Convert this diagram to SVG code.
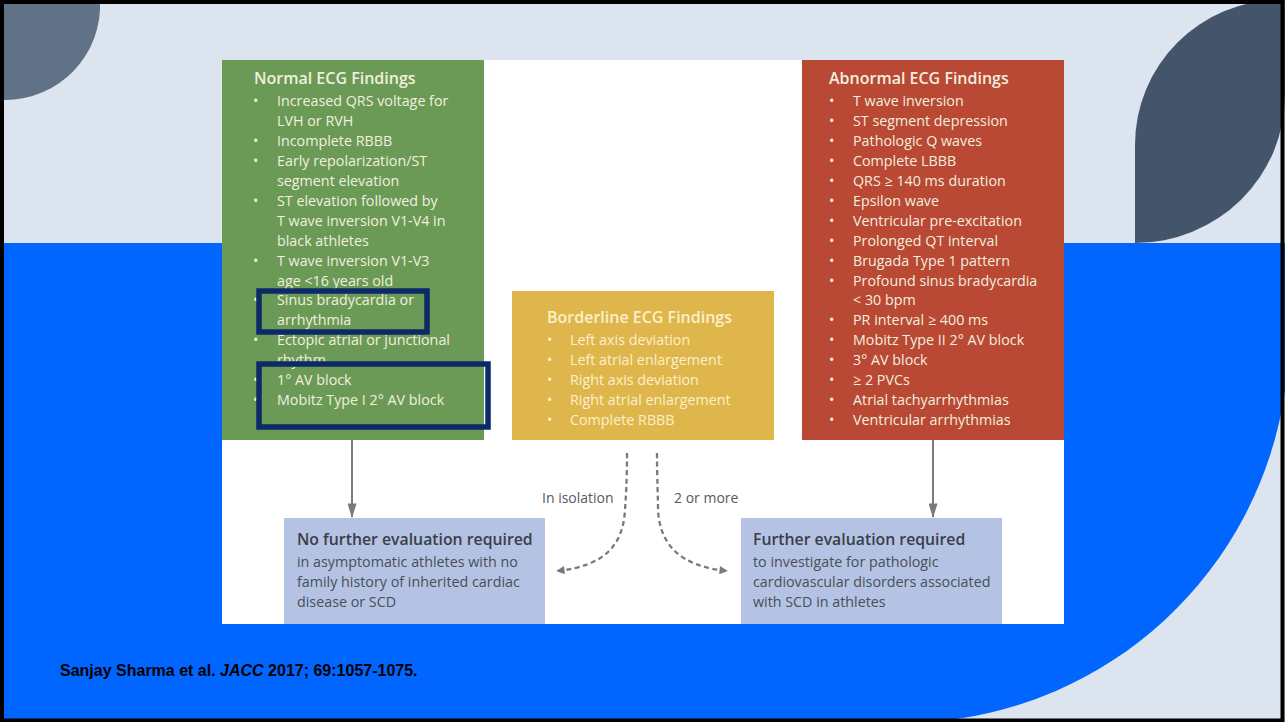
<svg xmlns="http://www.w3.org/2000/svg" width="1285" height="722" viewBox="0 0 1285 722">
<defs>
<style>
.t{font-family:"Open Sans","Noto Sans",sans-serif;}
.h{font-weight:600;font-size:16px;}
.hb{font-weight:600;font-size:15.8px;}
.b{font-size:14.3px;}
.lt{fill:#f1efdf;}
.yt{fill:#fbf0cc;}
.dk{fill:#3a3e48;}
.dkb{fill:#4a4e58;}
.hl{fill:none;stroke:#0c2a68;stroke-width:5.5;}
.cn{fill:none;stroke:#7a7a7a;stroke-width:2;}
.ds{stroke-dasharray:5 3.5;stroke-width:2.3;}
</style>
<marker id="ah" viewBox="0 0 16 10" refX="15" refY="5" markerWidth="8" markerHeight="4.5" orient="auto" markerUnits="strokeWidth">
<path d="M0,0 L16,5 L0,10 Z" fill="#7a7a7a"/>
</marker>
<marker id="ahs" viewBox="0 0 10 10" refX="9" refY="5" markerWidth="4.5" markerHeight="3.6" orient="auto" markerUnits="strokeWidth">
<path d="M0,0 L10,5 L0,10 Z" fill="#7a7a7a"/>
</marker>
</defs>
<g id="background">
<rect x="0" y="0" width="1285" height="722" fill="#dbe4ef"/>
<path d="M0,243 H1285 V391 A387,387 0 0 1 928,722 H0 Z" fill="#0066ff"/>
<path d="M0,0 H100 A95,95 0 0 1 5,100 H0 Z" fill="#627286"/>
<path d="M1135,243 V145 A145,145 0 0 1 1280,0 H1285 V95 A150,148 0 0 1 1135,243 Z" fill="#44546a"/>
<rect x="222" y="60" width="842" height="564" fill="#ffffff"/>
</g>
<g id="normal">
<rect x="222" y="60" width="262" height="380" fill="#6a9a56"/>
<text class="t h lt" x="254" y="84">Normal ECG Findings</text>
<g class="t b lt">
<text x="253" y="106">•</text><text x="277" y="106">Increased QRS voltage for</text>
<text x="277" y="126">LVH or RVH</text>
<text x="253" y="146">•</text><text x="277" y="146">Incomplete RBBB</text>
<text x="253" y="166">•</text><text x="277" y="166">Early repolarization/ST</text>
<text x="277" y="186">segment elevation</text>
<text x="253" y="206">•</text><text x="277" y="206">ST elevation followed by</text>
<text x="277" y="226">T wave inversion V1-V4 in</text>
<text x="277" y="246">black athletes</text>
<text x="253" y="266">•</text><text x="277" y="266">T wave inversion V1-V3</text>
<text x="277" y="286">age &lt;16 years old</text>
<text x="253" y="305">•</text><text x="277" y="305">Sinus bradycardia or</text>
<text x="277" y="325">arrhythmia</text>
<text x="253" y="345">•</text><text x="277" y="345">Ectopic atrial or junctional</text>
<text x="277" y="365">rhythm</text>
<text x="253" y="385">•</text><text x="277" y="385">1° AV block</text>
<text x="253" y="405">•</text><text x="277" y="405">Mobitz Type I 2° AV block</text>
</g>
</g>
<g id="borderline">
<rect x="512" y="291" width="262" height="149" fill="#dfb64b"/>
<text class="t h yt" x="547" y="323">Borderline ECG Findings</text>
<g class="t b yt">
<text x="547" y="345">•</text><text x="570" y="345">Left axis deviation</text>
<text x="547" y="365">•</text><text x="570" y="365">Left atrial enlargement</text>
<text x="547" y="385">•</text><text x="570" y="385">Right axis deviation</text>
<text x="547" y="405">•</text><text x="570" y="405">Right atrial enlargement</text>
<text x="547" y="425">•</text><text x="570" y="425">Complete RBBB</text>
</g>
</g>
<g id="abnormal">
<rect x="802" y="60" width="262" height="380" fill="#b94834"/>
<text class="t h lt" x="829" y="84">Abnormal ECG Findings</text>
<g class="t b lt">
<text x="829" y="106">•</text><text x="853" y="106">T wave inversion</text>
<text x="829" y="126">•</text><text x="853" y="126">ST segment depression</text>
<text x="829" y="146">•</text><text x="853" y="146">Pathologic Q waves</text>
<text x="829" y="166">•</text><text x="853" y="166">Complete LBBB</text>
<text x="829" y="186">•</text><text x="853" y="186">QRS ≥ 140 ms duration</text>
<text x="829" y="206">•</text><text x="853" y="206">Epsilon wave</text>
<text x="829" y="226">•</text><text x="853" y="226">Ventricular pre-excitation</text>
<text x="829" y="246">•</text><text x="853" y="246">Prolonged QT interval</text>
<text x="829" y="266">•</text><text x="853" y="266">Brugada Type 1 pattern</text>
<text x="829" y="286">•</text><text x="853" y="286">Profound sinus bradycardia</text>
<text x="853" y="305">&lt; 30 bpm</text>
<text x="829" y="325">•</text><text x="853" y="325">PR interval ≥ 400 ms</text>
<text x="829" y="345">•</text><text x="853" y="345">Mobitz Type II 2° AV block</text>
<text x="829" y="365">•</text><text x="853" y="365">3° AV block</text>
<text x="829" y="385">•</text><text x="853" y="385">≥ 2 PVCs</text>
<text x="829" y="405">•</text><text x="853" y="405">Atrial tachyarrhythmias</text>
<text x="829" y="425">•</text><text x="853" y="425">Ventricular arrhythmias</text>
</g>
</g>
<g id="no-further">
<rect x="284" y="518" width="261" height="106" fill="#b4c3e3"/>
<text class="t hb dk" x="297" y="545">No further evaluation required</text>
<g class="t b dkb">
<text x="297" y="567">in asymptomatic athletes with no</text>
<text x="297" y="587">family history of inherited cardiac</text>
<text x="297" y="607">disease or SCD</text>
</g>
</g>
<g id="further">
<rect x="741" y="518" width="261" height="106" fill="#b4c3e3"/>
<text class="t hb dk" x="753" y="545">Further evaluation required</text>
<g class="t b dkb">
<text x="753" y="567">to investigate for pathologic</text>
<text x="753" y="587">cardiovascular disorders associated</text>
<text x="753" y="607">with SCD in athletes</text>
</g>
</g>
<g id="connectors">
<path class="cn" d="M352,440 V517" marker-end="url(#ah)"/>
<path class="cn" d="M933,440 V517" marker-end="url(#ah)"/>
<path class="cn ds" d="M627,453 C627,480 626,495 625,510 C623,545 605,566 557,571" marker-end="url(#ahs)"/>
<path class="cn ds" d="M657,453 C657,480 658,495 658,510 C660,545 680,566 727,571" marker-end="url(#ahs)"/>
<text class="t" font-size="14px" fill="#555a60" x="542" y="503">In isolation</text>
<text class="t" font-size="14px" fill="#555a60" x="674" y="503">2 or more</text>
</g>
<g id="highlights">
<rect class="hl" x="259" y="291" width="168" height="41"/>
<rect class="hl" x="259" y="364" width="229" height="63"/>
</g>
<g id="citation">
<text x="60" y="676" font-family="'Liberation Sans',Arial,sans-serif" font-weight="bold" font-size="16px" fill="#000">Sanjay Sharma et al. <tspan font-style="italic">JACC</tspan> 2017; 69:1057-1075.</text>
</g>
<rect x="2" y="2" width="1280.5" height="718.5" fill="none" stroke="#000" stroke-width="4"/>
</svg>
